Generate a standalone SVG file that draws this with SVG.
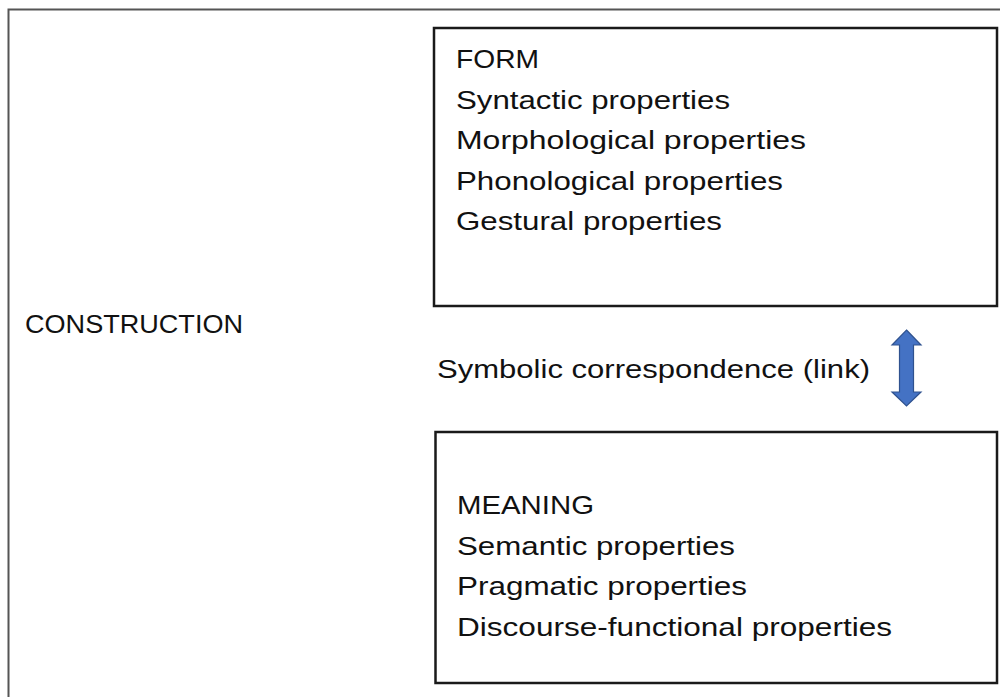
<svg xmlns="http://www.w3.org/2000/svg" width="1000" height="697" viewBox="0 0 1000 697">
<style>
.t{font-family:"Liberation Sans",Arial,sans-serif;font-size:26px;fill:#111}
.box{fill:#fff;stroke:#1a1a1a;stroke-width:2.5}
</style>
<rect width="1000" height="697" fill="#fff"/>
<g id="construction">
<rect x="8.5" y="9.5" width="1000" height="700" fill="none" stroke="#555" stroke-width="2"/>
<text class="t" x="25" y="333" textLength="218" lengthAdjust="spacingAndGlyphs">CONSTRUCTION</text>
</g>
<g id="form">
<rect class="box" x="434" y="28" width="563" height="278"/>
<text class="t" x="456" y="68" textLength="83" lengthAdjust="spacingAndGlyphs">FORM</text>
<text class="t" x="456" y="109" textLength="274" lengthAdjust="spacingAndGlyphs">Syntactic properties</text>
<text class="t" x="456" y="149" textLength="350" lengthAdjust="spacingAndGlyphs">Morphological properties</text>
<text class="t" x="456" y="190" textLength="327" lengthAdjust="spacingAndGlyphs">Phonological properties</text>
<text class="t" x="456" y="230" textLength="266" lengthAdjust="spacingAndGlyphs">Gestural properties</text>
</g>
<g id="meaning">
<rect class="box" x="435.5" y="432" width="561.5" height="251"/>
<text class="t" x="457" y="514" textLength="137" lengthAdjust="spacingAndGlyphs">MEANING</text>
<text class="t" x="457" y="555" textLength="278" lengthAdjust="spacingAndGlyphs">Semantic properties</text>
<text class="t" x="457" y="595" textLength="290" lengthAdjust="spacingAndGlyphs">Pragmatic properties</text>
<text class="t" x="457" y="636" textLength="435" lengthAdjust="spacingAndGlyphs">Discourse-functional properties</text>
</g>
<g id="connectors">
<path d="M906.5,330 L921,345 L913.5,345 L913.5,392 L921,392 L906.5,406 L892,392 L899.5,392 L899.5,345 L892,345 Z" fill="#4472C4" stroke="#2F528F" stroke-width="1.2"/>
<text class="t" x="437" y="378" textLength="433" lengthAdjust="spacingAndGlyphs">Symbolic correspondence (link)</text>
</g>
</svg>
